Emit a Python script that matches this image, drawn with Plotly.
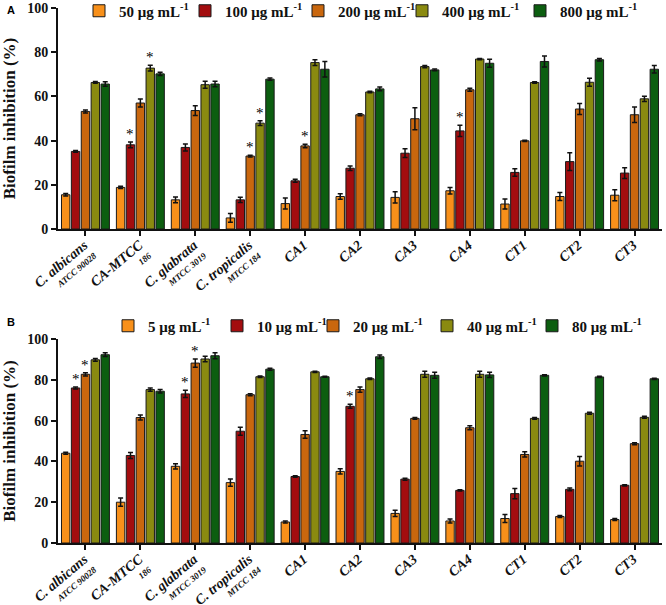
import plotly.graph_objects as go
from plotly.subplots import make_subplots

categories = ["C. albicans", "CA-MTCC", "C. glabrata", "C. tropicalis",
              "CA1", "CA2", "CA3", "CA4", "CT1", "CT2", "CT3"]
sublabels = ["ATCC 90028", "186", "MTCC 3019", "MTCC 184",
             "", "", "", "", "", "", ""]

names_a = ["50 μg mL<sup>-1</sup>", "100 μg mL<sup>-1</sup>", "200 μg mL<sup>-1</sup>",
           "400 μg mL<sup>-1</sup>", "800 μg mL<sup>-1</sup>"]
names_b = ["5 μg mL<sup>-1</sup>", "10 μg mL<sup>-1</sup>", "20 μg mL<sup>-1</sup>",
           "40 μg mL<sup>-1</sup>", "80 μg mL<sup>-1</sup>"]

a50 = [15.5, 18.8, 13.2, 5.0, 11.5, 14.7, 14.3, 17.3, 11.3, 14.7, 15.3]
a100 = [35.1, 38.1, 36.9, 13.2, 21.8, 27.5, 34.3, 44.4, 25.6, 30.5, 25.3]
a200 = [53.2, 57.0, 53.6, 33.0, 37.6, 51.7, 49.9, 63.0, 39.9, 54.3, 51.7]
a400 = [66.3, 72.8, 65.3, 47.9, 75.3, 62.0, 73.5, 76.9, 66.3, 66.4, 58.9]
a800 = [65.6, 70.2, 65.6, 67.8, 72.3, 63.4, 72.0, 75.0, 75.8, 76.6, 72.3]

a50_err = [0.6, 0.5, 1.3, 2.0, 2.5, 1.2, 2.5, 1.5, 2.3, 1.8, 2.5]
a100_err = [0.4, 1.3, 1.6, 1.2, 0.7, 1.0, 2.0, 2.5, 1.7, 4.0, 2.4]
a200_err = [0.7, 1.8, 2.2, 0.4, 0.8, 0.4, 5.0, 0.7, 0.3, 2.5, 3.5]
a400_err = [0.4, 1.3, 1.6, 1.1, 1.3, 0.3, 0.5, 0.3, 0.3, 1.8, 1.2]
a800_err = [1.0, 0.7, 1.2, 0.5, 3.5, 0.8, 0.4, 1.8, 2.5, 0.6, 1.7]

b5 = [44.0, 20.0, 37.6, 29.6, 10.3, 35.1, 14.5, 10.8, 12.0, 13.0, 11.5]
b10 = [76.0, 42.9, 73.1, 54.8, 32.6, 67.0, 31.3, 25.8, 24.2, 26.3, 28.3]
b20 = [82.7, 61.5, 88.2, 72.7, 53.2, 75.2, 61.1, 56.5, 43.4, 40.1, 48.7]
b40 = [89.8, 75.2, 90.2, 81.5, 83.9, 80.5, 82.7, 82.7, 61.1, 63.6, 61.6]
b80 = [92.3, 74.4, 91.8, 85.2, 81.5, 91.3, 82.2, 82.4, 82.2, 81.4, 80.5]

b5_err = [0.5, 2.0, 1.3, 1.8, 0.5, 1.3, 1.5, 1.0, 2.0, 0.5, 0.5]
b10_err = [0.5, 1.5, 1.8, 2.0, 0.4, 1.0, 0.5, 0.3, 2.5, 0.7, 0.3]
b20_err = [0.8, 1.2, 2.0, 0.5, 1.8, 1.3, 0.4, 1.0, 1.3, 2.3, 0.5]
b40_err = [0.7, 0.8, 1.3, 0.4, 0.3, 0.4, 1.5, 1.5, 0.4, 0.5, 0.5]
b80_err = [0.9, 0.9, 1.5, 0.5, 0.3, 0.8, 1.5, 1.3, 0.3, 0.3, 0.3]

# asterisks: (category index, series index)
stars_a = [(1, 1), (1, 3), (3, 2), (3, 3), (4, 2), (7, 1)]
stars_b = [(0, 1), (0, 2), (2, 1), (2, 2), (5, 1)]

y_ticks = [0, 20, 40, 60, 80, 100]

colors = ["#F8901A", "#A30D0F", "#C9670E", "#8A8A10", "#0C5E10"]
SERIF = "Liberation Serif, Times New Roman, serif"

series_a = [a50, a100, a200, a400, a800]
errs_a = [a50_err, a100_err, a200_err, a400_err, a800_err]
series_b = [b5, b10, b20, b40, b80]
errs_b = [b5_err, b10_err, b20_err, b40_err, b80_err]

# tick label text: main name, with a small second line when present
tick_text = []
for name, sub in zip(categories, sublabels):
    t = f"<span style='font-size:14px'>{name}</span>"
    if sub:
        t += f"<br><span style='font-size:9px'>{sub}</span>"
    tick_text.append(t)

W, H = 666, 605
ML, MR, MT, MB = 58, 4, 8, 62
PW = W - ML - MR
PH = H - MT - MB
BARGAP = 0.1
GROUPGAP = 0.15

leg_x_a = [99, 205, 318, 422, 540]
leg_x_b = [128, 237, 333, 447, 552]
leg_y_a, leg_y_b = 11, 326

fig = make_subplots(rows=2, cols=1)

legend_font = dict(family=SERIF, size=15, color="#111", weight="bold")
legend_layouts = {}

def legend_id(k):
    return "legend" if k == 0 else f"legend{k + 1}"

for i in range(5):
    lid = legend_id(i)
    fig.add_trace(go.Bar(
        x=categories, y=series_a[i], name=names_a[i],
        marker=dict(color=colors[i], line=dict(color="#1a1a1a", width=1)),
        error_y=dict(type="data", array=errs_a[i], color="#111", thickness=1.5, width=2.5),
        legend=lid,
    ), row=1, col=1)
    legend_layouts[lid] = dict(x=(leg_x_a[i] - 20 - ML) / PW, y=1 - (leg_y_a - MT) / PH,
                               xanchor="left", yanchor="middle", orientation="h",
                               font=legend_font, bgcolor="rgba(0,0,0,0)", itemwidth=30)
for i in range(5):
    lid = legend_id(i + 5)
    fig.add_trace(go.Bar(
        x=categories, y=series_b[i], name=names_b[i],
        marker=dict(color=colors[i], line=dict(color="#1a1a1a", width=1)),
        error_y=dict(type="data", array=errs_b[i], color="#111", thickness=1.5, width=2.5),
        legend=lid,
    ), row=2, col=1)
    legend_layouts[lid] = dict(x=(leg_x_b[i] - 20 - ML) / PW, y=1 - (leg_y_b - MT) / PH,
                               xanchor="left", yanchor="middle", orientation="h",
                               font=legend_font, bgcolor="rgba(0,0,0,0)", itemwidth=30)

cat_w = PW / len(categories)
step = cat_w * (1 - BARGAP) / 5

for (ci, si) in stars_a:
    fig.add_annotation(x=categories[ci], y=series_a[si][ci] + errs_a[si][ci],
                       xref="x", yref="y", text="*", showarrow=False,
                       xshift=(si - 2) * step, yanchor="bottom", yshift=-2,
                       font=dict(family=SERIF, size=15, color="#000000"))
for (ci, si) in stars_b:
    fig.add_annotation(x=categories[ci], y=series_b[si][ci] + errs_b[si][ci],
                       xref="x2", yref="y2", text="*", showarrow=False,
                       xshift=(si - 2) * step, yanchor="bottom", yshift=-2,
                       font=dict(family=SERIF, size=15, color="#000000"))

# panel letters
fig.add_annotation(x=(5 - ML) / PW, y=1 - (10 - MT) / PH, xref="paper", yref="paper",
                   text="<b>A</b>", showarrow=False, xanchor="left", yanchor="middle",
                   font=dict(family="Liberation Sans, Arial, sans-serif", size=11, color="#000"))
fig.add_annotation(x=(5 - ML) / PW, y=1 - (322 - MT) / PH, xref="paper", yref="paper",
                   text="<b>B</b>", showarrow=False, xanchor="left", yanchor="middle",
                   font=dict(family="Liberation Sans, Arial, sans-serif", size=11, color="#000"))

xaxis_style = dict(
    showline=True, linecolor="#111", linewidth=2, ticks="outside", ticklen=5,
    tickwidth=2, tickcolor="#111", tickangle=-40, automargin=False,
    tickmode="array", tickvals=categories, ticktext=tick_text,
    tickfont=dict(family=SERIF, size=10, color="#111", weight="bold", style="italic"),
    showgrid=False,
)
yaxis_style = dict(
    range=[0, 100], tickvals=y_ticks, showline=True, linecolor="#111", linewidth=2,
    ticks="outside", ticklen=5, tickwidth=2, tickcolor="#111", showgrid=False, zeroline=False,
    automargin=False,
    tickfont=dict(family=SERIF, size=14, color="#111", weight="bold"),
    title=dict(text="Biofilm inhibition (%)", standoff=8,
               font=dict(family=SERIF, size=17, color="#111", weight="bold")),
)

dom_a = [1 - (229 - MT) / PH, 1]
dom_b = [0, 1 - (339 - MT) / PH]

fig.update_layout(
    width=W, height=H,
    margin=dict(l=ML, r=MR, t=MT, b=MB, autoexpand=False),
    paper_bgcolor="white", plot_bgcolor="white",
    barmode="group", bargap=BARGAP, bargroupgap=GROUPGAP,
    xaxis=dict(**xaxis_style, domain=[0, 1], anchor="y"),
    xaxis2=dict(**xaxis_style, domain=[0, 1], anchor="y2"),
    yaxis=dict(**yaxis_style, domain=dom_a, anchor="x"),
    yaxis2=dict(**yaxis_style, domain=dom_b, anchor="x2"),
    showlegend=True,
    **legend_layouts,
)

fig.write_html(
    "out.html",
    config=dict(displayModeBar=False),
    post_script="document.body.style.margin='0';document.body.style.overflow='hidden';",
)
